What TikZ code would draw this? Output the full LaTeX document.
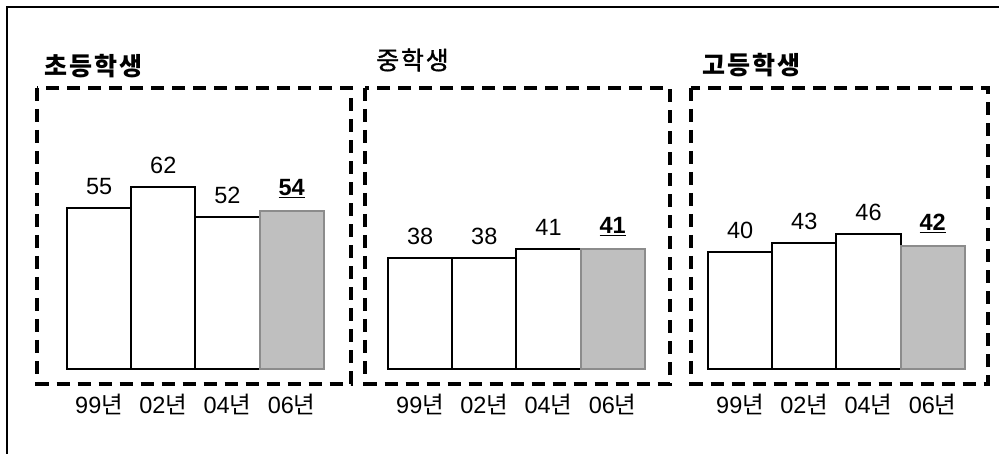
\documentclass[tikz,border=0pt]{standalone}
\usepackage{fontspec}
\setmainfont{Liberation Sans}
\newfontfamily\kr{Noto Sans CJK KR}
\newfontfamily\krtitle[LetterSpace=9]{Noto Sans CJK KR}
\newfontfamily\krmid[LetterSpace=7,FakeBold=1.2]{Noto Sans CJK KR}
\usetikzlibrary{positioning}
\tikzset{
  valbar/.style={draw=black,line width=2pt,fill=white,outer sep=0pt,inner sep=0pt,minimum width=64.2pt,anchor=south west},
  newbar/.style={valbar,draw=black!45,fill=black!25},
  groupbox/.style={draw=black,line width=4pt,dash pattern=on 13pt off 8pt},
  vallabel/.style={font=\fontsize{23.5}{26}\selectfont,inner sep=0pt},
  newlabel/.style={vallabel,font=\fontsize{23.5}{26}\selectfont\bfseries},
  yearlabel/.style={font=\fontsize{23.5}{26}\selectfont,inner sep=0pt,anchor=base},
  grouptitle/.style={font=\fontsize{25}{28}\selectfont\krtitle\bfseries,inner sep=0pt,anchor=west}
}

\begin{document}
\begin{tikzpicture}[x=1pt,y=-1pt]
    \useasboundingbox (0,0) rectangle (999,454);
    \draw[line width=2pt] (7,454) -- (7,7) -- (999,7);

    % 초등학생
    \node[grouptitle] (t1) at (44,66) {초등학생};
    \draw[groupbox] (37,88) rectangle (351,383.5);
    \node[valbar,minimum height={55*2.94pt}] (p1a) at (67,369.5) {};
    \node[valbar,minimum height={62*2.94pt}] (p1b) at (p1a.south east) {};
    \node[valbar,minimum height={52*2.94pt}] (p1c) at (p1b.south east) {};
    \node[newbar,minimum height={54*2.94pt}] (p1d) at (p1c.south east) {};
    \node[vallabel,above=13pt of p1a] (v1a) {55};
    \node[vallabel,above=13pt of p1b] (v1b) {62};
    \node[vallabel,above=13pt of p1c] (v1c) {52};
    \node[newlabel,above=13pt of p1d] (v1d) {\underline{54}};
    \node[yearlabel] (y1a) at ([yshift=-44pt]p1a.south) {99{\kr 년}};
    \node[yearlabel] (y1b) at ([yshift=-44pt]p1b.south) {02{\kr 년}};
    \node[yearlabel] (y1c) at ([yshift=-44pt]p1c.south) {04{\kr 년}};
    \node[yearlabel] (y1d) at ([yshift=-44pt]p1d.south) {06{\kr 년}};

    % 중학생
    \node[grouptitle,font=\fontsize{25}{28}\selectfont\krmid] (t2) at (376,60) {중학생};
    \draw[groupbox] (365,88) rectangle (670,383.5);
    \node[valbar,minimum height={38*2.94pt}] (p2a) at (388,369.5) {};
    \node[valbar,minimum height={38*2.94pt}] (p2b) at (p2a.south east) {};
    \node[valbar,minimum height={41*2.94pt}] (p2c) at (p2b.south east) {};
    \node[newbar,minimum height={41*2.94pt}] (p2d) at (p2c.south east) {};
    \node[vallabel,above=13pt of p2a] (v2a) {38};
    \node[vallabel,above=13pt of p2b] (v2b) {38};
    \node[vallabel,above=13pt of p2c] (v2c) {41};
    \node[newlabel,above=13pt of p2d] (v2d) {\underline{41}};
    \node[yearlabel] (y2a) at ([yshift=-44pt]p2a.south) {99{\kr 년}};
    \node[yearlabel] (y2b) at ([yshift=-44pt]p2b.south) {02{\kr 년}};
    \node[yearlabel] (y2c) at ([yshift=-44pt]p2c.south) {04{\kr 년}};
    \node[yearlabel] (y2d) at ([yshift=-44pt]p2d.south) {06{\kr 년}};

    % 고등학생
    \node[grouptitle] (t3) at (702,65) {고등학생};
    \draw[groupbox] (691,88) rectangle (988,383.5);
    \node[valbar,minimum height={40*2.94pt}] (p3a) at (708,369.5) {};
    \node[valbar,minimum height={43*2.94pt}] (p3b) at (p3a.south east) {};
    \node[valbar,minimum height={46*2.94pt}] (p3c) at (p3b.south east) {};
    \node[newbar,minimum height={42*2.94pt}] (p3d) at (p3c.south east) {};
    \node[vallabel,above=13pt of p3a] (v3a) {40};
    \node[vallabel,above=13pt of p3b] (v3b) {43};
    \node[vallabel,above=13pt of p3c] (v3c) {46};
    \node[newlabel,above=13pt of p3d] (v3d) {\underline{42}};
    \node[yearlabel] (y3a) at ([yshift=-44pt]p3a.south) {99{\kr 년}};
    \node[yearlabel] (y3b) at ([yshift=-44pt]p3b.south) {02{\kr 년}};
    \node[yearlabel] (y3c) at ([yshift=-44pt]p3c.south) {04{\kr 년}};
    \node[yearlabel] (y3d) at ([yshift=-44pt]p3d.south) {06{\kr 년}};
\end{tikzpicture}
\end{document}
